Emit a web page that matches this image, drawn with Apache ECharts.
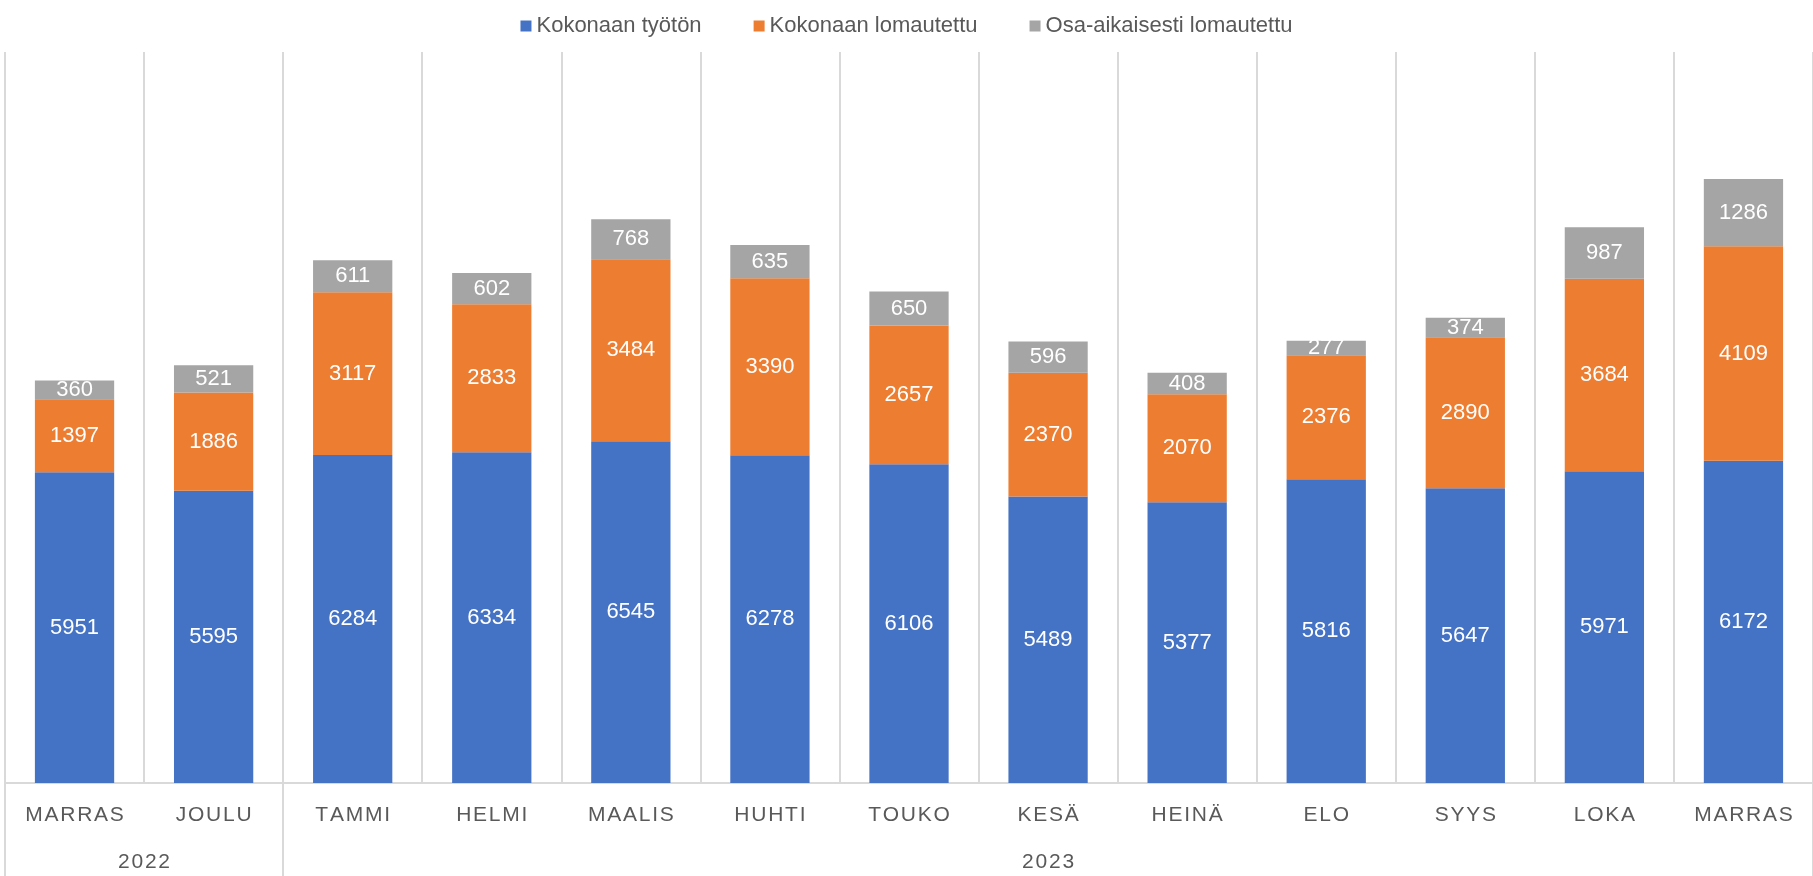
<!DOCTYPE html>
<html>
<head>
<meta charset="utf-8">
<script src="https://cdn.jsdelivr.net/npm/echarts@6/dist/echarts.min.js"></script>
<style>
    html, body { margin: 0; padding: 0; background: #fff; }
    #main { width: 1813px; height: 876px; }
</style>
</head>
<body>
<div id="main"></div>
<script>
var months = ['MARRAS', 'JOULU', 'TAMMI', 'HELMI', 'MAALIS', 'HUHTI', 'TOUKO', 'KESÄ', 'HEINÄ', 'ELO', 'SYYS', 'LOKA', 'MARRAS'];
var yearOfMonth = ['2022', '2022', '2023', '2023', '2023', '2023', '2023', '2023', '2023', '2023', '2023', '2023', '2023'];
var tyoton = [5951, 5595, 6284, 6334, 6545, 6278, 6106, 5489, 5377, 5816, 5647, 5971, 6172];
var lomautettu = [1397, 1886, 3117, 2833, 3484, 3390, 2657, 2370, 2070, 2376, 2890, 3684, 4109];
var osaLomautettu = [360, 521, 611, 602, 768, 635, 650, 596, 408, 277, 374, 987, 1286];

var myChart = echarts.init(document.getElementById('main'));
window.onresize = function () {
    myChart.resize();
};

var fontFamily = '"Liberation Sans", Arial, sans-serif';
var gridColor = '#d9d9d9';
var textColor = '#595959';

// kirjainväli kuten alkuperäisessä
function spaced(s) {
    return s.split('').join('\u200A');
}

function makeSeries(name, data, color) {
    return {
        name: name,
        type: 'bar',
        stack: 'yht',
        data: data,
        barCategoryGap: '43%',
        itemStyle: { color: color },
        label: {
            show: true,
            position: 'inside',
            color: '#fff',
            fontFamily: fontFamily,
            fontSize: 22
        }
    };
}

var option = {
    animation: false,
    textStyle: { fontFamily: fontFamily },
    legend: {
        left: 'center',
        top: 10,
        itemWidth: 11,
        itemHeight: 11,
        itemGap: 52,
        icon: 'rect',
        textStyle: { color: textColor, fontSize: 22, fontFamily: fontFamily }
    },
    grid: [
        { left: 5, width: 1813, top: 52, height: 731 },
        { left: 5, width: 1813, top: 783, height: 93 }
    ],
    xAxis: [
        {
            type: 'category',
            gridIndex: 0,
            data: months,
            axisLine: { lineStyle: { color: gridColor, width: 2 } },
            axisTick: { show: false },
            splitLine: { show: true, lineStyle: { color: gridColor, width: 2 } },
            axisLabel: {
                color: textColor,
                fontSize: 21,
                margin: 22,
                interval: 0,
                formatter: function (v) { return spaced(v); }
            }
        },
        {
            type: 'category',
            gridIndex: 1,
            data: yearOfMonth,
            axisLine: { show: false },
            axisTick: { show: false },
            splitLine: {
                show: true,
                interval: function (i) { return i === 0 || i === 2; },
                lineStyle: { color: gridColor, width: 2 }
            },
            axisLabel: {
                inside: true,
                margin: 3,
                interval: 0,
                color: textColor,
                fontSize: 21,
                formatter: function (v, i) {
                    if (i === 0) return '{a|' + spaced(v) + '}';
                    if (i === 7) return spaced(v);
                    return '';
                },
                rich: {
                    a: { color: textColor, fontSize: 21, padding: [0, 0, 0, 139] }
                }
            }
        }
    ],
    yAxis: [
        { type: 'value', gridIndex: 0, min: 0, max: 14000, show: false },
        { type: 'value', gridIndex: 1, show: false }
    ],
    series: [
        makeSeries('Kokonaan työtön', tyoton, '#4472C4'),
        makeSeries('Kokonaan lomautettu', lomautettu, '#ED7D31'),
        makeSeries('Osa-aikaisesti lomautettu', osaLomautettu, '#A5A5A5')
    ]
};

myChart.setOption(option);
</script>
</body>
</html>
